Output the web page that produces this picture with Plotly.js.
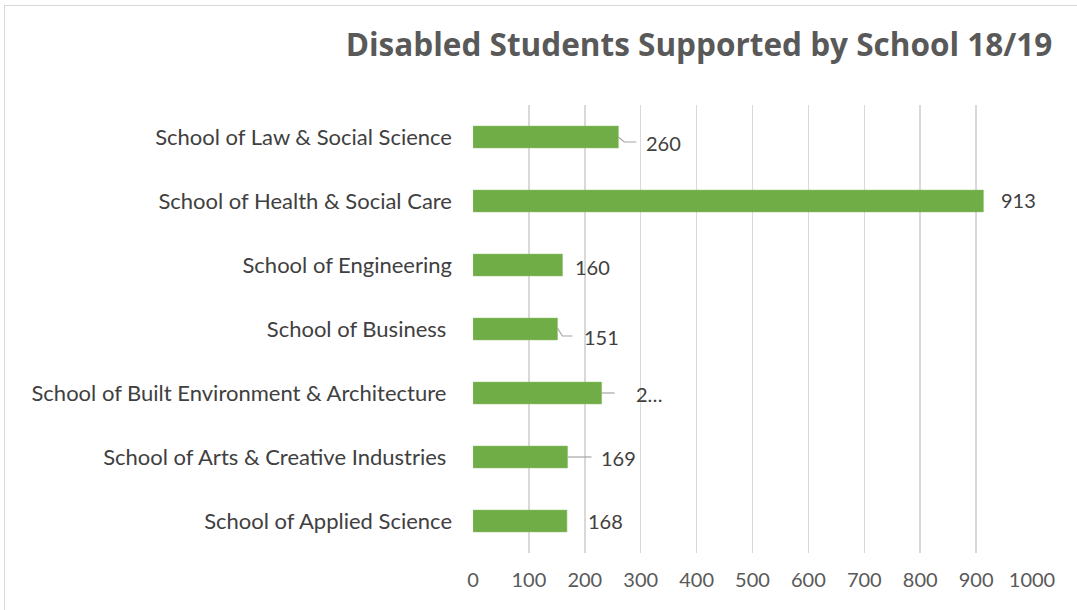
<!DOCTYPE html>
<html>
<head>
<meta charset="utf-8">
<script src="https://cdn.plot.ly/plotly-3.0.1.min.js"></script>
<style>
  html, body { margin: 0; padding: 0; background: #ffffff; overflow: hidden; }
  #frame { position: absolute; left: 4px; top: 5px; width: 1200px; height: 700px; border: 1px solid #d9d9d9; pointer-events: none; }
  #chart { position: absolute; left: 0; top: 0; width: 1077px; height: 610px; }
</style>
</head>
<body>
<div id="frame"></div>
<div id="chart"></div>
<script>
// ---- data (top to bottom as shown) ----
const schools = [
  'School of Law & Social Science',
  'School of Health & Social Care',
  'School of Engineering',
  'School of Business ',
  'School of Built Environment & Architecture ',
  'School of Arts & Creative Industries ',
  'School of Applied Science'
];
const students = [260, 913, 160, 151, 230, 169, 168];
const valueLabels = ['260', '913', '160', '151', '2…', '169', '168'];
const xTicks = [0, 100, 200, 300, 400, 500, 600, 700, 800, 900, 1000];

// ---- label placement (pixels from bar end / bar centre; +dy = down) ----
const labelShift = [
  {dx: 26, dy: 6, leader: [[0,0],[6,5],[18,5]]},
  {dx: 16, dy: -1, leader: null},
  {dx: 11, dy: 2, leader: null},
  {dx: 25, dy: 8, leader: [[0,-1],[5,7],[15,7]]},
  {dx: 32, dy: 1, leader: [[0,0],[13,0]]},
  {dx: 32, dy: 1, leader: [[0,0],[24,0]]},
  {dx: 19, dy: 0, leader: null}
];

const FONT = 'Lato, "Open Sans", sans-serif';
const TITLE_FONT = '"Open Sans", Lato, sans-serif';

const annotations = students.map((v, i) => ({
  x: v, y: schools[i], xref: 'x', yref: 'y',
  text: valueLabels[i], showarrow: false,
  xanchor: 'left', yanchor: 'middle',
  xshift: labelShift[i].dx, yshift: -labelShift[i].dy,
  font: {family: FONT, size: 20, color: '#404040'}
}));

const shapes = [];
students.forEach((v, i) => {
  const ld = labelShift[i].leader;
  if (!ld) return;
  const path = ld.map((p, k) => (k === 0 ? 'M' : 'L') + p[0] + ',' + (-p[1])).join(' ');
  shapes.push({
    type: 'path', xref: 'x', yref: 'y',
    xsizemode: 'pixel', ysizemode: 'pixel',
    xanchor: v, yanchor: i,
    path: path,
    line: {color: '#a6a6a6', width: 1.2}
  });
});

const trace = {
  type: 'bar', orientation: 'h',
  x: students, y: schools,
  marker: {color: '#70ad47', line: {color: '#86bd62', width: 0.6}},
  hoverinfo: 'x+y'
};

const layout = {
  width: 1077, height: 610,
  paper_bgcolor: 'rgba(0,0,0,0)', plot_bgcolor: 'rgba(0,0,0,0)',
  margin: {l: 473, r: 45, t: 105, b: 57},
  showlegend: false,
  bargap: 0.66,
  font: {family: FONT, color: '#595959'},
  title: {
    text: '<b>Disabled Students Supported by School 18/19</b>',
    x: 699 / 1077, xanchor: 'center', xref: 'container',
    y: 1 - 44.5 / 610, yanchor: 'middle', yref: 'container',
    font: {family: TITLE_FONT, size: 31.5, color: '#595959'}
  },
  xaxis: {
    range: [0, 1000], tickvals: xTicks, ticktext: xTicks.map(String),
    showgrid: true, gridcolor: '#d9d9d9', gridwidth: 1.5,
    zeroline: false, showline: false, ticks: '',
    ticklabelstandoff: 13,
    tickfont: {family: FONT, size: 20, color: '#595959'},
    fixedrange: true
  },
  yaxis: {
    type: 'category', autorange: 'reversed',
    showgrid: false, zeroline: false, showline: false, ticks: '',
    ticklabelstandoff: 20,
    tickfont: {family: FONT, size: 22, color: '#404040'},
    fixedrange: true
  },
  annotations: annotations,
  shapes: shapes
};

Plotly.newPlot('chart', [trace], layout, {displayModeBar: false, staticPlot: true});
</script>
</body>
</html>
